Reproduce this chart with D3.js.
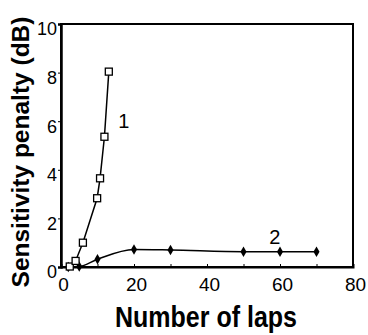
<!DOCTYPE html>
<html>
<head>
<meta charset="utf-8">
<script src="https://cdn.jsdelivr.net/npm/d3@7"></script>
<style>
body{margin:0;background:#fff;}
text{font-family:"Liberation Sans",Arial,sans-serif;fill:#000;}
</style>
</head>
<body>
<svg></svg>
<script>
var width=368;
var height=335;

var laps1=[2.4,4,6,9.9,10.7,11.9,13.1];
var penalty1=[0.02,0.25,1.0,2.83,3.65,5.36,8.04];
var laps2=[2,5,10,20,30,50,60,70];
var penalty2=[0,0.02,0.32,0.72,0.7,0.63,0.63,0.63];
var xticks=[0,20,40,60,80];
var yticks=[0,2,4,6,8,10];

var svg=d3.select("svg")
	.attr("width",width)
	.attr("height",height)

var scalex=d3.scaleLinear()
	.domain([0,80])
	.range([61,353])

var scaley=d3.scaleLinear()
	.domain([0,10])
	.range([267,24])

// frame
svg.append("rect")
	.attr("x",scalex(0))
	.attr("y",scaley(10))
	.attr("width",scalex(80)-scalex(0))
	.attr("height",scaley(0)-scaley(10))
	.attr("fill","none")
	.attr("stroke","#000")
	.attr("stroke-width",2)

var xaxis=d3.axisBottom(scalex)
	.tickValues(d3.range(0,81,10))
	.tickSize(-3)
	.tickFormat(d => xticks.indexOf(d)>=0 ? d : "")
	.tickPadding(11)

var yaxis=d3.axisLeft(scaley)
	.tickValues(yticks)
	.tickSize(3)
	.tickPadding(1)

var gx=svg.append("g")
	.attr("transform","translate(0,"+scaley(0)+")")
	.call(xaxis)
gx.select(".domain").attr("stroke-width",2)
gx.selectAll("text").style("font-size","19px").attr("dx","2")

var gy=svg.append("g")
	.attr("transform","translate("+scalex(0)+",0)")
	.call(yaxis)
gy.select(".domain").attr("stroke-width",2.5)
gy.selectAll("text").style("font-size","18px").attr("dy","0.6em")

var line1=d3.line()
	.x((d,i) => scalex(laps1[i]))
	.y(d => scaley(d))

var line2=d3.line()
	.x((d,i) => scalex(laps2[i]))
	.y(d => scaley(d))
	.curve(d3.curveMonotoneX)

svg.append("path")
	.attr("d",line2(penalty2))
	.attr("fill","none")
	.attr("stroke","#000")
	.attr("stroke-width",1.5)

svg.selectAll(".diamond")
	.data(penalty2)
	.enter()
	.append("path")
	.classed("diamond",true)
	.attr("d",d3.symbol().type(d3.symbolDiamond).size(32))
	.attr("transform",(d,i) => "translate("+scalex(laps2[i])+","+scaley(d)+")")
	.attr("fill","#000")

svg.append("path")
	.attr("d",line1(penalty1))
	.attr("fill","none")
	.attr("stroke","#000")
	.attr("stroke-width",1.5)

svg.selectAll(".square")
	.data(penalty1)
	.enter()
	.append("rect")
	.classed("square",true)
	.attr("x",(d,i) => scalex(laps1[i])-3.5)
	.attr("y",d => scaley(d)-3.5)
	.attr("width",7)
	.attr("height",7)
	.attr("fill","#fff")
	.attr("stroke","#000")
	.attr("stroke-width",1.3)

svg.append("text")
	.attr("x",scalex(17.2))
	.attr("y",scaley(5.7))
	.style("font-size","20px")
	.style("text-anchor","middle")
	.text("1")

svg.append("text")
	.attr("x",scalex(58.6))
	.attr("y",scaley(0.93))
	.style("font-size","20px")
	.style("text-anchor","middle")
	.text("2")

svg.append("text")
	.attr("transform","translate(206,327) scale(1,1.15)")
	.style("font-size","25px")
	.style("font-weight","bold")
	.style("text-anchor","middle")
	.text("Number of laps")

svg.append("text")
	.attr("transform","translate(29,152) rotate(-90)")
	.style("font-size","24.5px")
	.style("font-weight","bold")
	.style("text-anchor","middle")
	.text("Sensitivity penalty (dB)")
</script>
</body>
</html>
